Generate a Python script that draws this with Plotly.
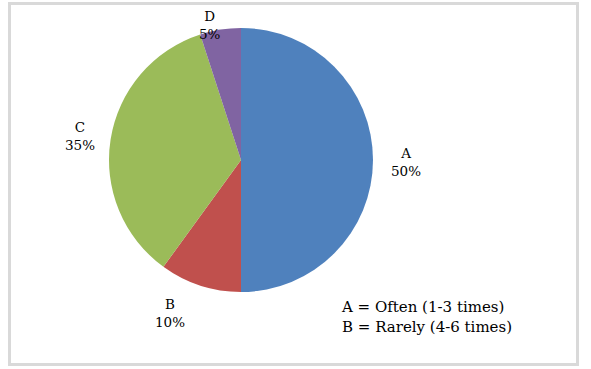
import plotly.graph_objects as go

categories = ["A", "B", "C", "D"]
values = [50, 10, 35, 5]
colors = ["#4f81bd", "#c0504d", "#9bbb59", "#8064a2"]
key_lines = ["A = Often (1-3 times)", "B = Rarely (4-6 times)"]

W, H = 591, 369

def px(x):
    return x / W

def py(y):
    return 1 - y / H

fig = go.Figure(go.Pie(
    labels=categories,
    values=values,
    sort=False,
    direction="clockwise",
    rotation=0,
    marker=dict(colors=colors, line=dict(width=0)),
    textinfo="none",
    hoverinfo="label+percent",
    domain=dict(x=[px(108), px(374)], y=[py(292), py(28)]),
    showlegend=False,
))

label_pos = {"A": (406, 162), "B": (170, 313), "C": (80, 136), "D": (210, 25)}
total = sum(values)
for cat, v in zip(categories, values):
    x, y = label_pos[cat]
    fig.add_annotation(
        x=px(x), y=py(y), xref="paper", yref="paper",
        xanchor="center", yanchor="middle",
        text=f"{cat}<br>{round(100 * v / total)}%",
        showarrow=False, align="center",
        font=dict(family="DejaVu Serif", size=13.5, color="#000000"),
    )

fig.add_annotation(
    x=px(339), y=py(317), xref="paper", yref="paper",
    xanchor="left", yanchor="middle", align="left",
    text="<br>".join(key_lines), showarrow=False,
    font=dict(family="DejaVu Serif", size=15, color="#000000"),
)

fig.add_shape(
    type="rect", xref="paper", yref="paper",
    x0=px(9.5), x1=px(577.5), y0=py(364.5), y1=py(3.5),
    line=dict(color="#d9d9d9", width=3), fillcolor="rgba(0,0,0,0)",
)

fig.update_layout(
    width=W, height=H,
    margin=dict(l=0, r=0, t=0, b=0),
    paper_bgcolor="#ffffff", plot_bgcolor="#ffffff",
)

fig.write_html(
    "out.html",
    config={"displayModeBar": False},
    post_script="document.body.style.margin='0';document.body.style.overflow='hidden';",
)
